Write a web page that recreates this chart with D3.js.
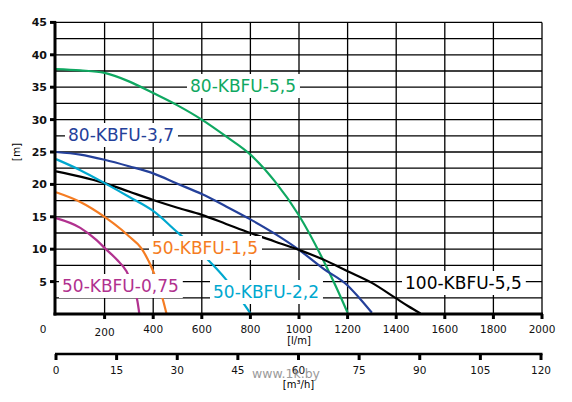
<!DOCTYPE html>
<html>
<head>
<meta charset="utf-8">
<script src="https://cdn.jsdelivr.net/npm/d3@7"></script>
<style>
  html, body { margin: 0; padding: 0; background: #fff; }
  svg { display: block; }
</style>
</head>
<body>
<svg id="chart" width="572" height="402"></svg>
<script>
// ---------- data ----------
const flowTicks = [0, 200, 400, 600, 800, 1000, 1200, 1400, 1600, 1800, 2000];
const m3Ticks = [0, 15, 30, 45, 60, 75, 90, 105, 120];
const headTicks = [5, 10, 15, 20, 25, 30, 35, 40, 45];

const q_80_55 = [0, 100, 200, 300, 400, 500, 600, 700, 800, 900, 1000, 1100, 1150, 1200];
const h_80_55 = [37.8, 37.6, 37.2, 35.9, 34.1, 32.2, 30.0, 27.4, 24.6, 20.5, 15.2, 8.3, 4.4, 0.2];

const q_80_37 = [0, 100, 200, 300, 400, 500, 600, 700, 800, 900, 1000, 1100, 1200, 1250, 1300];
const h_80_37 = [25.0, 24.6, 23.8, 22.8, 21.7, 20.1, 18.5, 16.6, 14.6, 12.4, 9.9, 7.0, 4.4, 2.4, 0.2];

const q_100_55 = [0, 100, 200, 300, 400, 500, 600, 700, 800, 900, 1000, 1100, 1200, 1300, 1400, 1450, 1500];
const h_100_55 = [22.0, 21.2, 20.2, 18.9, 17.6, 16.4, 15.3, 13.9, 12.5, 11.2, 9.9, 8.4, 6.6, 4.8, 2.4, 1.2, 0.1];

const q_50_22 = [0, 100, 200, 300, 400, 500, 600, 700, 750, 800];
const h_50_22 = [23.9, 22.2, 20.2, 18.1, 15.9, 12.6, 9.3, 5.3, 2.8, 0.1];

const q_50_15 = [0, 100, 200, 270, 300, 350, 400, 440, 455];
const h_50_15 = [18.8, 17.3, 15.0, 13.0, 12.0, 10.2, 6.6, 2.2, 0];

const q_50_075 = [0, 100, 167, 200, 250, 290, 320, 335, 343];
const h_50_075 = [14.8, 13.3, 11.4, 10.2, 8.4, 6.6, 4.0, 2.0, 0];

const seriesNames = ["80-KBFU-5,5", "80-KBFU-3,7", "100-KBFU-5,5", "50-KBFU-2,2", "50-KBFU-1,5", "50-KBFU-0,75"];

// ---------- styles / layout ----------
const colors = {
  "80-KBFU-5,5": "#0fa861",
  "80-KBFU-3,7": "#24409a",
  "100-KBFU-5,5": "#000000",
  "50-KBFU-2,2": "#00a8cf",
  "50-KBFU-1,5": "#f57c22",
  "50-KBFU-0,75": "#b1318f"
};
const labelPos = {
  "80-KBFU-5,5": [190, 92],
  "80-KBFU-3,7": [68, 141],
  "50-KBFU-1,5": [152, 254],
  "50-KBFU-0,75": [62, 292],
  "50-KBFU-2,2": [213, 298],
  "100-KBFU-5,5": [405, 289]
};

const seriesData = {
  "80-KBFU-5,5": d3.zip(q_80_55, h_80_55),
  "80-KBFU-3,7": d3.zip(q_80_37, h_80_37),
  "100-KBFU-5,5": d3.zip(q_100_55, h_100_55),
  "50-KBFU-2,2": d3.zip(q_50_22, h_50_22),
  "50-KBFU-1,5": d3.zip(q_50_15, h_50_15),
  "50-KBFU-0,75": d3.zip(q_50_075, h_50_075)
};

const svg = d3.select("#chart");
const x = d3.scaleLinear().domain([0, 2000]).range([56, 542]);
const y = d3.scaleLinear().domain([0, 45]).range([314, 22.4]);
const xm3 = d3.scaleLinear().domain([0, 120]).range([56, 541]);

// grid
const grid = svg.append("g").attr("stroke", "#000").attr("stroke-width", 1.3);
grid.selectAll("line.h").data(d3.range(2.5, 45.01, 2.5)).join("line")
  .attr("x1", x(0)).attr("x2", x(2000))
  .attr("y1", d => y(d)).attr("y2", d => y(d));
grid.selectAll("line.v").data(flowTicks.slice(1)).join("line")
  .attr("x1", d => x(d)).attr("x2", d => x(d))
  .attr("y1", y(0)).attr("y2", y(45));

// curves
const line = d3.line().x(d => x(d[0])).y(d => y(d[1])).curve(d3.curveMonotoneX);
svg.append("g").selectAll("path").data(seriesNames).join("path")
  .attr("d", n => line(seriesData[n]))
  .attr("fill", "none")
  .attr("stroke", n => colors[n])
  .attr("stroke-width", 2.2);

// axes (thick)
const axisG = svg.append("g");
axisG.append("line").attr("x1", x(0) - 1).attr("x2", x(0) - 1)
  .attr("y1", y(45) - 1).attr("y2", y(0) + 1.5).attr("stroke", "#000").attr("stroke-width", 3);
axisG.append("line").attr("x1", x(0) - 2.5).attr("x2", x(2000) + 1)
  .attr("y1", y(0)).attr("y2", y(0)).attr("stroke", "#000").attr("stroke-width", 3);

// y ticks
axisG.selectAll("line.yt").data(headTicks).join("line")
  .attr("x1", x(0) - 6).attr("x2", x(0))
  .attr("y1", d => y(d)).attr("y2", d => y(d))
  .attr("stroke", "#000").attr("stroke-width", 3);
axisG.selectAll("text.yl").data(headTicks).join("text")
  .attr("x", 47).attr("y", d => y(d) + 4)
  .attr("text-anchor", "end")
  .attr("font-family", "DejaVu Sans").attr("font-weight", "bold").attr("font-size", 11)
  .attr("fill", "#111")
  .text(d => d);
svg.append("text")
  .attr("transform", `translate(20,${y(25)}) rotate(-90)`)
  .attr("text-anchor", "middle")
  .attr("font-family", "DejaVu Sans").attr("font-size", 10.5)
  .text("[m]");

// x ticks (l/m)
axisG.selectAll("line.xt").data(flowTicks.slice(1)).join("line")
  .attr("x1", d => x(d)).attr("x2", d => x(d))
  .attr("y1", y(0)).attr("y2", y(0) + 5)
  .attr("stroke", "#000").attr("stroke-width", 3);
axisG.selectAll("text.xl").data(flowTicks).join("text")
  .attr("x", d => d === 0 ? 43 : x(d))
  .attr("y", d => d === 200 ? 336 : 333)
  .attr("text-anchor", "middle")
  .attr("font-family", "DejaVu Sans").attr("font-size", 10.5)
  .attr("fill", "#111")
  .text(d => d);
svg.append("text").attr("x", x(1000)).attr("y", 344)
  .attr("text-anchor", "middle")
  .attr("font-family", "DejaVu Sans").attr("font-size", 10)
  .text("[l/m]");

// second axis (m3/h)
const m3G = svg.append("g");
m3G.append("line").attr("x1", xm3(0) - 1).attr("x2", xm3(120) + 1.5)
  .attr("y1", 354).attr("y2", 354).attr("stroke", "#000").attr("stroke-width", 2.5);
m3G.selectAll("line").filter(".t").data(m3Ticks).join("line")
  .attr("x1", d => xm3(d)).attr("x2", d => xm3(d))
  .attr("y1", 354).attr("y2", 360)
  .attr("stroke", "#000").attr("stroke-width", 3);
m3G.selectAll("text").data(m3Ticks).join("text")
  .attr("x", d => xm3(d)).attr("y", 374)
  .attr("text-anchor", "middle")
  .attr("font-family", "DejaVu Sans").attr("font-size", 10.5)
  .attr("fill", "#111")
  .text(d => d);
svg.append("text").attr("x", xm3(60)).attr("y", 388)
  .attr("text-anchor", "middle")
  .attr("font-family", "DejaVu Sans").attr("font-size", 10)
  .text("[m³/h]");

// watermark
svg.append("text").attr("x", 252).attr("y", 378)
  .attr("font-family", "DejaVu Sans").attr("font-size", 12.5)
  .attr("fill", "#8a8a8a").attr("opacity", 0.85)
  .text("www.1k.by");

// labels with white boxes
const lab = svg.append("g");
seriesNames.forEach(n => {
  const [lx, ly] = labelPos[n];
  const g = lab.append("g");
  const rect = g.append("rect").attr("fill", "#fff");
  const t = g.append("text").attr("x", lx).attr("y", ly)
    .attr("font-family", "DejaVu Sans").attr("font-size", 17)
    .attr("fill", colors[n])
    .text(n);
  const bb = t.node().getBBox();
  rect.attr("x", bb.x - 3).attr("y", bb.y - 2)
    .attr("width", bb.width + 7).attr("height", bb.height + 4);
});
</script>
</body>
</html>
